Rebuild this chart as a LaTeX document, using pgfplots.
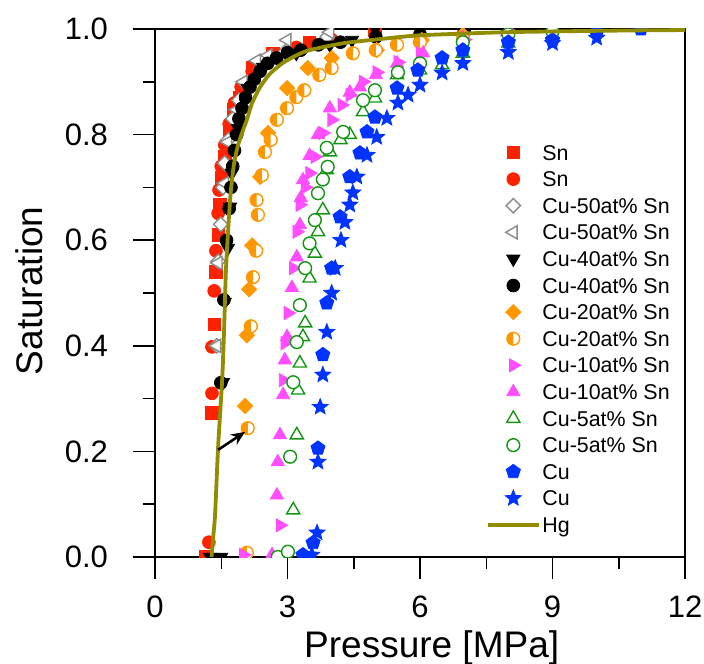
\documentclass[border=0pt]{standalone}
\usepackage{fontspec}
\setmainfont{Liberation Sans}
\usepackage{pgfplots}
\pgfplotsset{compat=1.18}
\usetikzlibrary{arrows.meta}

\definecolor{cSn}{RGB}{255,34,0}
\definecolor{cGray}{RGB}{140,140,140}
\definecolor{cOrange}{RGB}{255,152,0}
\definecolor{cMag}{RGB}{255,77,255}
\definecolor{cGreen}{RGB}{20,150,20}
\definecolor{cBlue}{RGB}{0,51,255}
\definecolor{cHg}{RGB}{145,140,0}

% square diamond
\pgfdeclareplotmark{sdiamond}{%
  \pgfpathmoveto{\pgfqpoint{0pt}{\pgfplotmarksize}}
  \pgfpathlineto{\pgfqpoint{\pgfplotmarksize}{0pt}}
  \pgfpathlineto{\pgfqpoint{0pt}{-\pgfplotmarksize}}
  \pgfpathlineto{\pgfqpoint{-\pgfplotmarksize}{0pt}}
  \pgfpathclose
  \pgfusepathqfillstroke}
% filled star
\pgfdeclareplotmark{fstar}{%
  \pgfpathmoveto{\pgfpointpolar{90}{1.1\pgfplotmarksize}}
  \pgfpathlineto{\pgfpointpolar{126}{0.48\pgfplotmarksize}}
  \pgfpathlineto{\pgfpointpolar{162}{1.1\pgfplotmarksize}}
  \pgfpathlineto{\pgfpointpolar{198}{0.48\pgfplotmarksize}}
  \pgfpathlineto{\pgfpointpolar{234}{1.1\pgfplotmarksize}}
  \pgfpathlineto{\pgfpointpolar{270}{0.48\pgfplotmarksize}}
  \pgfpathlineto{\pgfpointpolar{306}{1.1\pgfplotmarksize}}
  \pgfpathlineto{\pgfpointpolar{342}{0.48\pgfplotmarksize}}
  \pgfpathlineto{\pgfpointpolar{18}{1.1\pgfplotmarksize}}
  \pgfpathlineto{\pgfpointpolar{54}{0.48\pgfplotmarksize}}
  \pgfpathclose
  \pgfusepathqfillstroke}
% circle, left half filled
\pgfdeclareplotmark{lhalf}{%
  \pgfpathcircle{\pgfpointorigin}{\pgfplotmarksize}
  \pgfsetfillcolor{white}
  \pgfusepathqfill
  \pgfpathmoveto{\pgfqpoint{0pt}{\pgfplotmarksize}}
  \pgfpatharc{90}{270}{\pgfplotmarksize}
  \pgfpathclose
  \pgfsetfillcolor{cOrange}
  \pgfusepathqfill
  \pgfpathcircle{\pgfpointorigin}{\pgfplotmarksize}
  \pgfusepathqstroke}

\begin{document}
\begin{tikzpicture}
\begin{axis}[
  name=ax,
  scale only axis,
  width=265pt, height=264pt,
  xmin=0, xmax=12, ymin=0, ymax=1,
  xtick={0,3,6,9,12}, minor x tick num=1,
  ytick={0,0.2,0.4,0.6,0.8,1.0}, minor y tick num=1,
  xtick pos=lower, ytick pos=left,
  tick align=outside,
  major tick length=11pt, minor tick length=6pt,
  tick style={black, line width=0.75pt},
  axis line style={line width=0.75pt},
  /pgf/number format/assume math mode=true,
  yticklabel style={/pgf/number format/.cd, fixed, fixed zerofill, precision=1},
  tick label style={font=\fontsize{15.5}{18}\selectfont},
  xticklabel shift=5pt, yticklabel shift=9pt,
  label style={font=\fontsize{18.5}{22}\selectfont},
  xlabel={Pressure [MPa]}, ylabel={Saturation},
  xlabel style={at={(axis description cs:0.522,-0.191)}, anchor=base},
  ylabel style={at={(axis description cs:-0.213,0.504)}, anchor=base},
  clip marker paths=true,
  mark size=3.2pt,
  legend cell align=left,
  legend image code/.code={\draw[mark repeat=2,mark phase=2,#1] plot coordinates {(0cm,0cm) (0.45cm,0cm) (0.9cm,0cm)};},
  legend style={draw=none, fill=none, at={(0.6234,0.792)}, anchor=north west,
    inner sep=0pt, row sep=0pt, font=\fontsize{10.7}{12}\selectfont,
    nodes={inner xsep=0.8pt, inner ysep=2.6pt, text height=7.8pt, text depth=0.3pt}},
]

% Sn (squares)
\addplot[only marks, mark=square*, color=cSn, mark size=3.1pt] coordinates {
 (1.15,0.0) (1.29,0.273) (1.34,0.441) (1.38,0.54) (1.43,0.61) (1.47,0.667)
 (1.51,0.718) (1.58,0.758) (1.70,0.809) (1.77,0.847) (1.92,0.871) (2.2,0.926)
 (2.67,0.954) (3.49,0.975) (4.98,0.998)
};
% Sn (circles)
\addplot[only marks, mark=*, color=cSn] coordinates {
 (1.22,0.028) (1.29,0.31) (1.29,0.398) (1.34,0.504) (1.38,0.58) (1.43,0.651)
 (1.45,0.695) (1.5,0.74) (1.58,0.78) (1.68,0.82) (1.8,0.86) (1.95,0.89)
 (2.2,0.92) (2.6,0.945) (3.2,0.965) (4.0,0.98)
};
% Cu-50 (open diamonds)
\addplot[only marks, mark=sdiamond, mark size=3.6pt, mark options={draw=cGray, fill=white, line width=0.7pt}] coordinates {
 (1.40,0.40) (1.43,0.56) (1.49,0.63) (1.54,0.70) (1.58,0.746) (1.66,0.79)
 (1.76,0.83) (1.9,0.865) (2.08,0.895) (2.4,0.925) (2.94,0.956) (3.9,0.985)
};
% Cu-50 (open left triangles)
\addplot[only marks, mark=triangle*, mark size=3.8pt, mark options={rotate=90, draw=cGray, fill=white, line width=0.7pt}] coordinates {
 (1.40,0.40) (1.43,0.557) (1.58,0.708) (1.65,0.786) (1.85,0.847) (2.0,0.9)
 (2.3,0.94) (2.56,0.95) (2.99,0.979) (3.96,0.994)
};
% Cu-40 (down triangles)
\addplot[only marks, mark=triangle*, mark size=3.8pt, mark options={rotate=180}, color=black] coordinates {
 (1.25,0.0) (1.5,0.0) (1.54,0.331) (1.58,0.483) (1.65,0.585) (1.70,0.663)
 (1.74,0.727) (1.88,0.812) (2.1,0.888) (2.45,0.928) (3.2,0.954) (3.96,0.97)
 (4.46,0.979) (4.98,1.0) (6.0,1.0) (6.97,0.998)
};
% Cu-40 (circles)
\addplot[only marks, mark=*, color=black] coordinates {
 (1.49,0.33) (1.56,0.487) (1.62,0.6) (1.68,0.66) (1.72,0.70) (1.76,0.74)
 (1.8,0.77) (1.85,0.80) (1.9,0.83) (1.97,0.85) (2.05,0.87) (2.15,0.89)
 (2.25,0.905) (2.38,0.92) (2.55,0.935) (2.75,0.945) (3.0,0.955) (3.3,0.96)
 (3.7,0.97) (4.2,0.975) (5.0,0.985) (6.0,0.99) (7.0,0.995) (8.0,0.997)
};
% Cu-20 (diamonds)
\addplot[only marks, mark=sdiamond, mark size=3.8pt, color=cOrange] coordinates {
 (2.04,0.286) (2.08,0.42) (2.13,0.507) (2.2,0.59) (2.38,0.72) (2.56,0.803)
 (2.99,0.888) (3.46,0.926) (4.0,0.945) (5.02,0.96) (6.04,0.979) (6.97,0.989)
};
% Cu-20 (half circles)
\addplot[only marks, mark=lhalf, color=cOrange, mark options={line width=0.7pt}] coordinates {
 (2.08,0.008) (2.1,0.244) (2.17,0.437) (2.22,0.53) (2.29,0.58) (2.33,0.648)
 (2.3,0.676) (2.42,0.723) (2.49,0.767) (2.62,0.79) (2.76,0.828) (2.99,0.85)
 (3.2,0.871) (3.38,0.884) (3.72,0.913) (4.0,0.926) (4.48,0.954) (5.0,0.96)
 (5.48,0.97) (6.0,0.975) (6.97,0.985)
};
% Cu-10 (right triangles)
\addplot[only marks, mark=triangle*, mark size=3.8pt, mark options={rotate=-90}, color=cMag] coordinates {
 (2.0,0.004) (2.83,0.06) (2.9,0.335) (2.94,0.405) (3.01,0.462) (3.13,0.547)
 (3.21,0.616) (3.28,0.667) (3.4,0.70) (3.5,0.727) (3.62,0.758) (3.8,0.803)
 (4.0,0.828) (4.23,0.856) (4.41,0.875) (4.71,0.9) (5.02,0.918) (5.5,0.937)
 (6.0,0.954) (7.0,0.98) (8.0,0.997)
};
% Cu-10 (up triangles)
\addplot[only marks, mark=triangle*, mark size=3.8pt, color=cMag] coordinates {
 (2.65,0.004) (2.76,0.117) (2.78,0.18) (2.83,0.231) (2.9,0.307) (2.94,0.373)
 (2.99,0.417) (3.1,0.51) (3.21,0.568) (3.28,0.629) (3.3,0.68) (3.35,0.714)
 (3.5,0.76) (3.69,0.8) (3.96,0.85) (4.41,0.88) (4.64,0.89) (5.0,0.913)
 (5.48,0.935) (6.07,0.954) (6.97,0.983) (7.97,0.994)
};
% Cu-5 (open triangles)
\addplot[only marks, mark=triangle*, mark size=3.8pt, mark options={draw=cGreen, fill=white, line width=0.7pt}] coordinates {
 (3.13,0.089) (3.21,0.231) (3.24,0.316) (3.28,0.367) (3.35,0.417) (3.4,0.443)
 (3.5,0.528) (3.62,0.575) (3.69,0.616) (3.8,0.657) (3.89,0.733) (3.96,0.767)
 (4.2,0.79) (4.41,0.8) (4.71,0.843) (4.98,0.869) (5.48,0.913) (6.0,0.922)
 (6.5,0.932) (6.97,0.954) (8.0,0.973) (9.0,0.989) (10.0,0.994)
};
% Cu-5 (open circles)
\addplot[only marks, mark=*, mark options={draw=cGreen, fill=white, line width=0.7pt}] coordinates {
 (2.78,0.0) (3.01,0.01) (3.06,0.19) (3.13,0.331) (3.21,0.407) (3.28,0.477)
 (3.4,0.547) (3.5,0.594) (3.62,0.638) (3.69,0.689) (3.8,0.715) (3.91,0.739)
 (3.89,0.775) (4.26,0.805) (4.71,0.865) (4.98,0.884) (5.5,0.918) (6.0,0.935)
 (6.97,0.975) (8.0,0.99) (9.0,0.995)
};
% Cu (pentagons)
\addplot[only marks, mark=pentagon*, mark size=3.7pt, color=cBlue] coordinates {
 (3.35,0.004) (3.58,0.027) (3.69,0.206) (3.8,0.383) (3.89,0.481) (4.0,0.547)
 (4.19,0.644) (4.41,0.72) (4.64,0.765) (4.8,0.805) (4.98,0.833) (5.48,0.888)
 (5.95,0.922) (6.5,0.945) (6.97,0.96) (8.0,0.975) (9.0,0.979) (10.0,0.994)
 (11.0,1.0)
};
% Cu (stars)
\addplot[only marks, mark=fstar, mark size=3.8pt, color=cBlue] coordinates {
 (3.55,0.004) (3.67,0.046) (3.69,0.18) (3.74,0.284) (3.8,0.345) (3.89,0.426)
 (4.0,0.5) (4.08,0.547) (4.21,0.6) (4.3,0.634) (4.41,0.667) (4.48,0.69)
 (4.57,0.72) (4.8,0.761) (5.02,0.795) (5.25,0.831) (5.5,0.86) (5.73,0.875)
 (6.0,0.894) (6.5,0.917) (6.97,0.935) (8.0,0.956) (9.0,0.973) (10.0,0.983)
};
% Hg
\addplot[no marks, color=cHg, line width=1.9pt, smooth, tension=0.4] coordinates {
 (1.28,0) (1.32,0.04) (1.36,0.08) (1.43,0.21) (1.52,0.335) (1.56,0.42)
 (1.61,0.55) (1.70,0.676) (1.78,0.74) (1.88,0.78) (2.0,0.81) (2.08,0.828)
 (2.2,0.86) (2.38,0.89) (2.6,0.915) (2.9,0.936) (3.2,0.95) (3.5,0.96)
 (4.26,0.973) (5.0,0.98) (6.0,0.988) (8.0,0.994) (10.5,0.997) (12,0.998)
};

\legend{Sn, Sn, Cu-50at\% Sn, Cu-50at\% Sn, Cu-40at\% Sn, Cu-40at\% Sn,
  Cu-20at\% Sn, Cu-20at\% Sn, Cu-10at\% Sn, Cu-10at\% Sn, Cu-5at\% Sn,
  Cu-5at\% Sn, Cu, Cu, Hg}

\draw[line width=1.3pt, -{Stealth[length=7pt, width=6pt]}] (axis cs:1.43,0.203) -- (axis cs:2.04,0.237);
\end{axis}
\pgfresetboundingbox
\path[use as bounding box] ([shift={(-77.5pt,-53pt)}]ax.south west) rectangle ([shift={(9.5pt,14.5pt)}]ax.north east);
\end{tikzpicture}
\end{document}
